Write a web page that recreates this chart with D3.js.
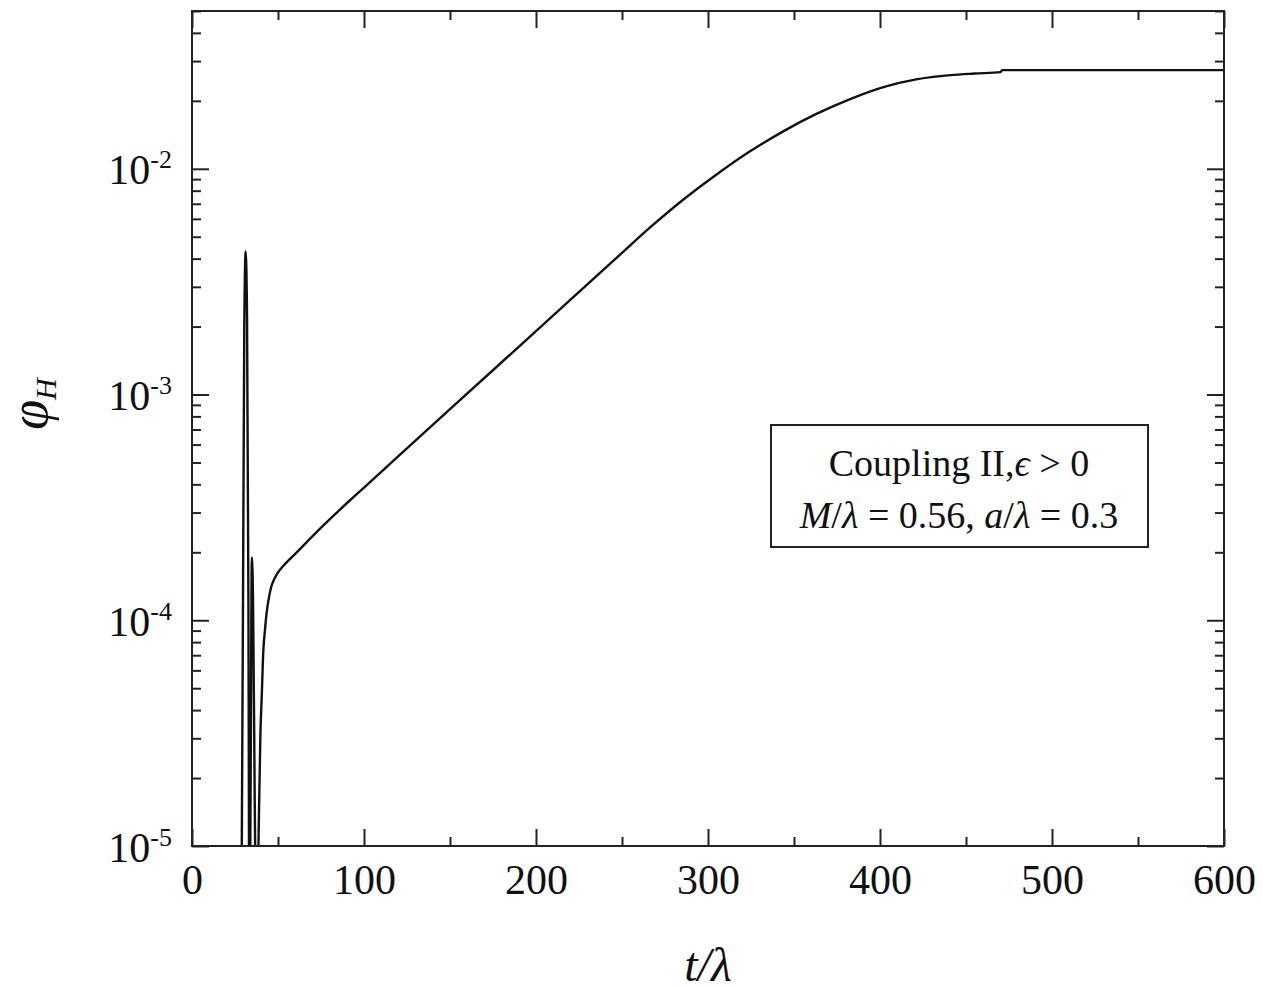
<!DOCTYPE html>
<html>
<head>
<meta charset="utf-8">
<script src="https://cdn.jsdelivr.net/npm/d3@7"></script>
<style>
  body { margin: 0; background: #fff; }
  svg { display: block; }
  text { font-family: "Liberation Serif", "Times New Roman", serif; fill: #111; }
  .line-path { fill: none; stroke: #111; stroke-width: 2.4; }
</style>
</head>
<body>
<svg id="chart" width="1263" height="987"></svg>
<script>
// time (t/lambda) and phi_H
const tValues = [
  28.6, 29.6, 30.4, 31.2, 32.0, 32.8, 33.4,
  34.1, 34.8, 35.5, 36.5, 37.6,
  38.8, 39.8, 40.5, 41.5, 42.4, 43.4, 44.4, 46, 48, 50, 53, 57, 62, 67, 73,
  82, 92, 100, 120, 150, 200, 250, 266, 285, 305, 324, 344, 363, 383,
  402, 421, 441, 455, 470, 471, 500, 550, 600
];
const phiValues = [
  3e-6, 1e-4, 2.0e-3, 4.3e-3, 2.2e-3, 1.2e-4, 3e-6,
  2e-5, 1.9e-4, 1.2e-4, 1.5e-5, 3e-6,
  1.2e-5, 3.2e-5, 4.5e-5, 7.4e-5, 9.0e-5, 1.08e-4, 1.22e-4, 1.40e-4, 1.53e-4, 1.63e-4, 1.74e-4, 1.87e-4, 2.04e-4, 2.23e-4, 2.48e-4,
  2.89e-4, 3.41e-4, 3.87e-4, 5.33e-4, 8.61e-4, 1.91e-3, 4.24e-3, 5.47e-3, 7.24e-3, 9.44e-3, 0.01189, 0.01469, 0.01750, 0.02042,
  0.02301, 0.02489, 0.02600, 0.02642, 0.02679, 0.02735, 0.02735, 0.02735, 0.02735
];

const xTicks = [0, 100, 200, 300, 400, 500, 600];
const xMinorTicks = [50, 150, 250, 350, 450, 550];
const yTicks = [1e-5, 1e-4, 1e-3, 1e-2];
const yExponents = ["-5", "-4", "-3", "-2"];

const legendLine1 = "Coupling II,";
const legendLine2 = ["M", "/", "λ", " = 0.56, ", "a", "/", "λ", " = 0.3"];

const margin = { top: 11, right: 39, bottom: 141, left: 192 };
const width = 1263;
const height = 987;
const innerWidth = width - margin.left - margin.right;
const innerHeight = height - margin.top - margin.bottom;

const data = tValues.map((t, i) => ({ t, v: phiValues[i] }));

const svg = d3.select("#chart");
const g = svg.append("g").attr("transform", `translate(${margin.left},${margin.top})`);

const xScale = d3.scaleLinear().domain([0, 600]).range([0, innerWidth]);
const yScale = d3.scaleLog().domain([1e-5, 5e-2]).range([innerHeight, 0]);

const yMinor = [];
[1e-5, 1e-4, 1e-3, 1e-2].forEach((dec) => {
  for (let k = 2; k <= 9; k++) {
    if (dec * k <= 5e-2 + 1e-12) yMinor.push(dec * k);
  }
});

// clip
svg.append("defs").append("clipPath").attr("id", "clip")
  .append("rect").attr("width", innerWidth).attr("height", innerHeight);

// curve
const lineGenerator = d3.line()
  .x((d) => xScale(d.t))
  .y((d) => yScale(d.v))
  .curve(d3.curveMonotoneX);

g.append("path")
  .datum(data)
  .attr("class", "line-path")
  .attr("clip-path", "url(#clip)")
  .attr("d", lineGenerator);

// axes with inward ticks
const styleAxis = (sel) => {
  sel.attr("font-size", null).attr("font-family", null);
  sel.select(".domain").remove();
  sel.selectAll(".tick line").attr("stroke", "#222").attr("stroke-width", 2);
};
// tick-only axes: drop the empty labels
const ticksOnly = (sel) => {
  styleAxis(sel);
  sel.selectAll(".tick text").remove();
};

g.append("g").attr("transform", `translate(0,${innerHeight})`)
  .call(d3.axisBottom(xScale).tickValues(xTicks).tickSize(-17).tickPadding(18).tickFormat(d3.format("d")))
  .call(styleAxis)
  .selectAll("text").attr("font-size", 42).attr("fill", "#111");

g.append("g").attr("transform", `translate(0,${innerHeight})`)
  .call(d3.axisBottom(xScale).tickValues(xMinorTicks).tickSize(-9))
  .call(ticksOnly);

g.append("g")
  .call(d3.axisTop(xScale).tickValues(xTicks).tickSize(-17))
  .call(ticksOnly);
g.append("g")
  .call(d3.axisTop(xScale).tickValues(xMinorTicks).tickSize(-9))
  .call(ticksOnly);

const yAxisG = g.append("g")
  .call(d3.axisLeft(yScale).tickValues(yTicks).tickSize(-17).tickPadding(20))
  .call(styleAxis);

yAxisG.selectAll(".tick text")
  .attr("fill", "#111")
  .attr("font-size", 42)
  .attr("dy", "0.36em")
  .each(function (d, i) {
    const t = d3.select(this);
    t.text(null);
    t.append("tspan").text("10");
    t.append("tspan").attr("font-size", 26).attr("dy", "-0.62em").text(yExponents[i]);
  });

g.append("g")
  .call(d3.axisLeft(yScale).tickValues(yMinor).tickSize(-9))
  .call(ticksOnly);

g.append("g").attr("transform", `translate(${innerWidth},0)`)
  .call(d3.axisRight(yScale).tickValues(yTicks).tickSize(-17))
  .call(ticksOnly);
g.append("g").attr("transform", `translate(${innerWidth},0)`)
  .call(d3.axisRight(yScale).tickValues(yMinor).tickSize(-9))
  .call(ticksOnly);

// frame
g.append("rect")
  .attr("width", innerWidth)
  .attr("height", innerHeight)
  .attr("fill", "none")
  .attr("stroke", "#222")
  .attr("stroke-width", 2);

// legend box
const legend = svg.append("g").attr("transform", "translate(771,425)");
legend.append("rect")
  .attr("width", 377)
  .attr("height", 122)
  .attr("fill", "#fff")
  .attr("stroke", "#222")
  .attr("stroke-width", 2);

const l1 = legend.append("text")
  .attr("x", 188)
  .attr("y", 51)
  .attr("text-anchor", "middle")
  .attr("font-size", 38);
l1.append("tspan").text(legendLine1);
l1.append("tspan").attr("font-style", "italic").text("ϵ");
l1.append("tspan").text(" > 0");

const l2 = legend.append("text")
  .attr("x", 188)
  .attr("y", 103)
  .attr("text-anchor", "middle")
  .attr("font-size", 38);
legendLine2.forEach((s) => {
  l2.append("tspan")
    .attr("font-style", /^(M|a|λ)$/.test(s) ? "italic" : null)
    .text(s);
});

// axis labels
const xLabel = svg.append("text")
  .attr("x", 708)
  .attr("y", 981)
  .attr("text-anchor", "middle")
  .attr("font-size", 48)
  .attr("font-style", "italic");
xLabel.append("tspan").text("t");
xLabel.append("tspan").text("/");
xLabel.append("tspan").text("λ");

const yLabel = svg.append("text")
  .attr("transform", "translate(47,404) rotate(-90)")
  .attr("text-anchor", "middle")
  .attr("font-size", 54)
  .attr("font-style", "italic");
yLabel.append("tspan").text("φ");
yLabel.append("tspan").attr("font-size", 30).attr("dy", "0.3em").text("H");
</script>
</body>
</html>
